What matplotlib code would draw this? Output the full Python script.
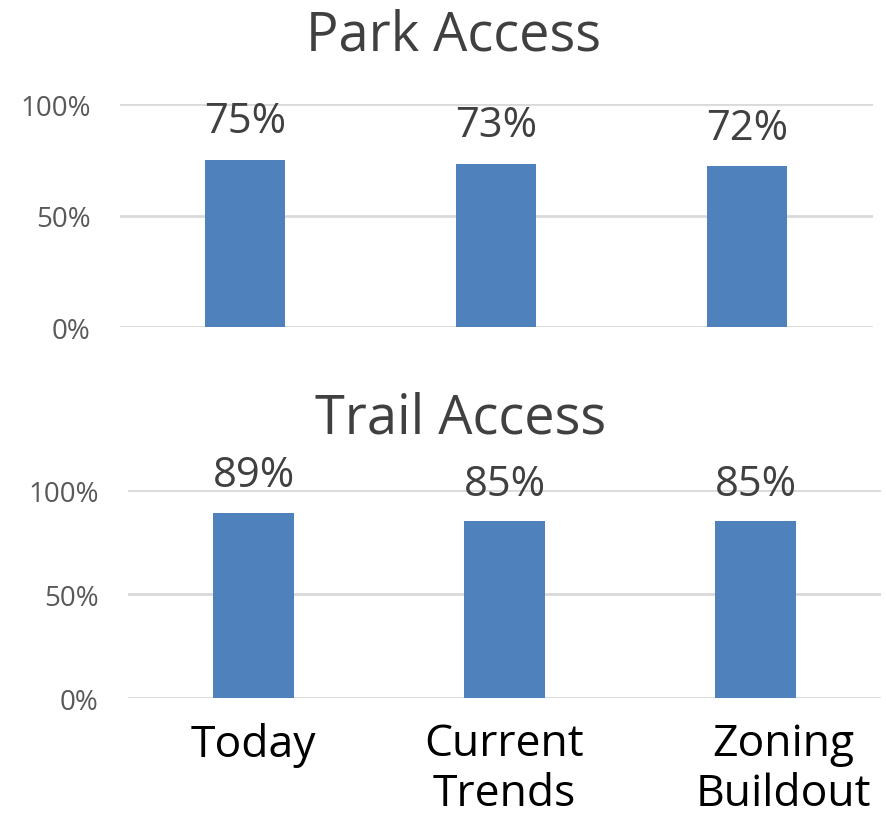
import matplotlib.pyplot as plt
import matplotlib.transforms as mtransforms
from matplotlib.ticker import FuncFormatter

plt.rcParams['font.family'] = ['Open Sans', 'DejaVu Sans']

scenarios = ['Today', 'Current\nTrends', 'Zoning\nBuildout']
park_access = [75, 73, 72]
trail_access = [89, 85, 85]

bar_color = '#4F81BD'
grid_color = '#D9D9D9'
tick_color = '#595959'

fig = plt.figure(figsize=(8.87, 8.29), dpi=100)
ax1 = fig.add_axes([0.135, 0.6043, 0.849, 0.269])
ax2 = fig.add_axes([0.1443, 0.1568, 0.849, 0.2509])


def style_axis(ax, values):
    x = range(len(values))
    bars = ax.bar(x, values, width=0.32, color=bar_color, zorder=3)
    for b, v in zip(bars, values):
        ax.text(b.get_x() + b.get_width() / 2, v + 8, f"{v}%",
                ha='center', va='bottom', fontsize=30, color='#404040')
    ax.set_xlim(-0.5, len(values) - 0.5)
    ax.set_ylim(0, 100)
    ax.set_yticks([0, 50, 100])
    ax.yaxis.set_major_formatter(FuncFormatter(lambda v, p: f"{v:.0f}%"))
    ax.grid(axis='y', color=grid_color, linewidth=2, zorder=0)
    for s in ax.spines.values():
        s.set_visible(False)
    ax.tick_params(axis='y', length=0, pad=21, labelsize=20, labelcolor=tick_color)
    ax.tick_params(axis='x', length=0)
    ax.set_axisbelow(True)


style_axis(ax1, park_access)
style_axis(ax2, trail_access)

ax1.set_xticks(range(len(scenarios)))
ax1.set_xticklabels([])
ax2.set_xticks(range(len(scenarios)))
ax2.set_xticklabels(scenarios, fontsize=32, color='black', linespacing=1.15, va='top')
ax2.tick_params(axis='x', pad=17)

# nudge the last category label to the right
last = ax2.get_xticklabels()[-1]
last.set_transform(last.get_transform() + mtransforms.ScaledTranslation(0.28, 0, fig.dpi_scale_trans))

fig.text(0.511, 0.956, 'Park Access', ha='center', va='center', fontsize=39, color='#404040')
fig.text(0.519, 0.494, 'Trail Access', ha='center', va='center', fontsize=39, color='#404040')

fig.savefig('out.png', dpi=100)
